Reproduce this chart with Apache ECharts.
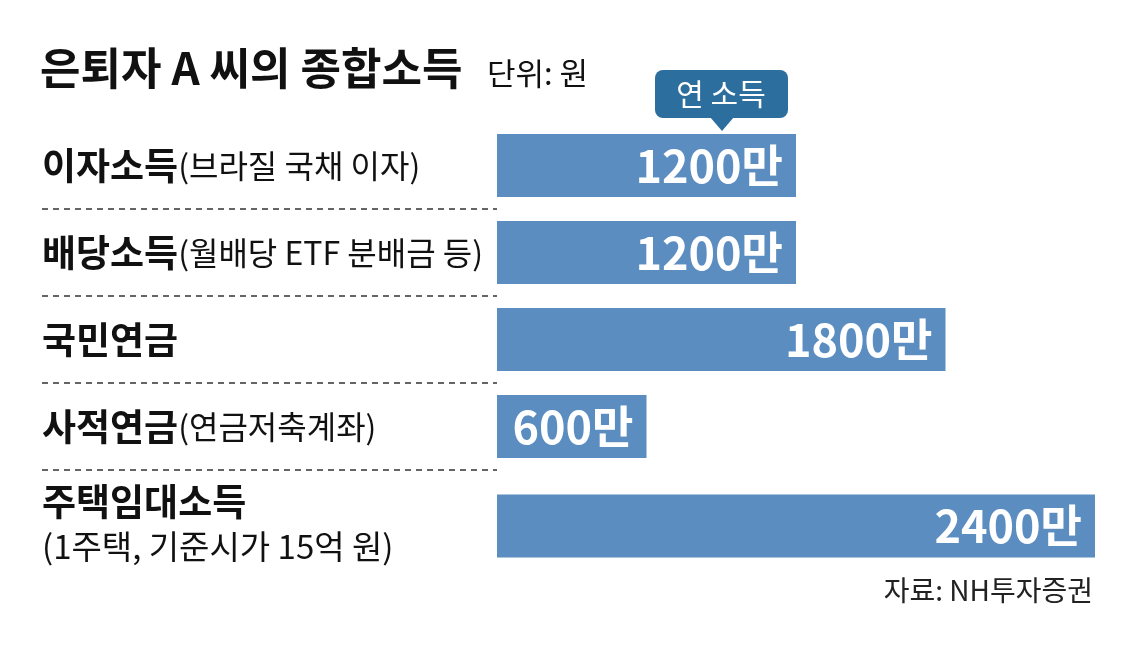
<!DOCTYPE html>
<html>
<head>
<meta charset="utf-8">
<script src="https://cdn.jsdelivr.net/npm/echarts@6/dist/echarts.min.js"></script>
<style>
  html, body { margin: 0; padding: 0; background: #fff; }
  #chart { width: 1135px; height: 646px; }
</style>
</head>
<body>
<div id="chart"></div>
<script>
(function() {
  // 데이터
  var labelsMain = ['이자소득', '배당소득', '국민연금', '사적연금', '주택임대소득'];
  var labelsSub = ['(브라질 국채 이자)', '(월배당 ETF 분배금 등)', '', '(연금저축계좌)', '(1주택, 기준시가 15억 원)'];
  var values = [1200, 1200, 1800, 600, 2400];
  var unit = '만';

  var font = '"Noto Sans CJK KR", "Noto Sans", sans-serif';
  var barColor = '#5b8dc0';

  var myChart = echarts.init(document.getElementById('chart'));

  function catLabel(i) {
    if (i === 4) return '{b|' + labelsMain[i] + '}\n{s|' + labelsSub[i] + '}';
    return '{b|' + labelsMain[i] + '}' + (labelsSub[i] ? '{n|' + labelsSub[i] + '}' : '');
  }
  var cats = labelsMain.map(function(d, i) { return catLabel(i); });

  var richStyle = {
    b: { fontFamily: font, fontSize: 37, fontWeight: 'bold', color: '#111' },
    n: { fontFamily: font, fontSize: 32, color: '#111' },
    s: { fontFamily: font, fontSize: 33, color: '#111', lineHeight: 48, padding: [4, 0, 0, 0] }
  };

  function yAxisFor(idx, list) {
    return {
      type: 'category', gridIndex: idx, data: list, inverse: true,
      axisLine: { show: false }, axisTick: { show: false }, splitLine: { show: false },
      axisLabel: { align: 'left', margin: 455, rich: richStyle, formatter: function(v) { return v; } }
    };
  }

  function barSeries(idx, data) {
    return {
      type: 'bar', xAxisIndex: idx, yAxisIndex: idx, data: data, barWidth: 63,
      itemStyle: { color: barColor },
      silent: true,
      label: {
        show: true, position: 'insideRight', distance: 13,
        fontFamily: font, fontSize: 45, fontWeight: 'bold', color: '#fff',
        formatter: function(p) { return p.value + unit; }
      }
    };
  }

  var dashes = [209, 296, 383, 470].map(function(y) {
    return {
      type: 'line', shape: { x1: 42, y1: y, x2: 497, y2: y },
      style: { stroke: '#333', lineWidth: 1.5, lineDash: [6, 5] }
    };
  });

  var option = {
    backgroundColor: '#fff',
    animation: false,
    grid: [
      { left: 497, right: 40, top: 122, height: 348 },
      { left: 497, right: 40, top: 482, height: 88 }
    ],
    xAxis: [
      { type: 'value', gridIndex: 0, min: 0, max: 2400, show: false },
      { type: 'value', gridIndex: 1, min: 0, max: 2400, show: false }
    ],
    yAxis: [yAxisFor(0, cats.slice(0, 4)), yAxisFor(1, cats.slice(4))],
    series: [barSeries(0, values.slice(0, 4)), barSeries(1, values.slice(4))],
    graphic: dashes.concat([
      {
        type: 'text', left: 40, top: 46,
        style: { text: '은퇴자 A 씨의 종합소득', font: 'bold 44px ' + font, fill: '#111' }
      },
      {
        type: 'text', left: 487, top: 58,
        style: { text: '단위: 원', font: '31px ' + font, fill: '#111' }
      },
      {
        type: 'rect', shape: { x: 655, y: 70, width: 133, height: 48, r: 8 },
        style: { fill: '#2c6e9e' }
      },
      {
        type: 'polygon', shape: { points: [[710, 117], [734, 117], [722, 131]] },
        style: { fill: '#2c6e9e' }
      },
      {
        type: 'text', x: 721, y: 94,
        style: { text: '연 소득', font: '30px ' + font, fill: '#fff', textAlign: 'center', textVerticalAlign: 'middle' }
      },
      {
        type: 'text', right: 42, top: 576,
        style: { text: '자료: NH투자증권', font: '28px ' + font, fill: '#222' }
      }
    ])
  };

  myChart.setOption(option);
  window.addEventListener('resize', function() { myChart.resize(); });
})();
</script>
</body>
</html>
